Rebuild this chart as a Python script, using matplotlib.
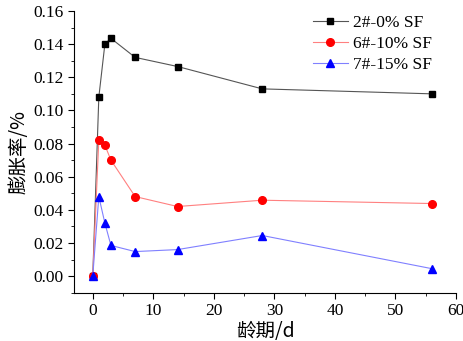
import matplotlib
matplotlib.use("Agg")
import matplotlib.pyplot as plt
from matplotlib.ticker import MultipleLocator, FormatStrFormatter

days = [0, 1, 2, 3, 7, 14, 28, 56]
sf0 = [0.0, 0.108, 0.140, 0.1435, 0.132, 0.1265, 0.113, 0.110]
sf10 = [0.0, 0.082, 0.079, 0.070, 0.048, 0.042, 0.0458, 0.0438]
sf15 = [0.0, 0.048, 0.032, 0.0185, 0.0148, 0.016, 0.0245, 0.0045]
labels = ["2#-0% SF", "6#-10% SF", "7#-15% SF"]

plt.rcParams['font.family'] = ['Liberation Serif', 'Noto Sans CJK SC']
fig = plt.figure(figsize=(4.64, 3.41), dpi=100)
ax = fig.add_axes([74/464, 1-293/341, (456-74)/464, (293-11)/341])

ax.plot(days, sf0, color='#555555', lw=0.8, marker='s', ms=5, mfc='black', mec='black', label=labels[0])
ax.plot(days, sf10, color='#ff8080', lw=0.8, marker='o', ms=5.5, mfc='red', mec='red', label=labels[1])
ax.plot(days, sf15, color='#8080ff', lw=0.8, marker='^', ms=5.5, mfc='blue', mec='blue', label=labels[2])

ax.set_xlim(-3.1, 60)
ax.set_ylim(-0.0102, 0.16)
ax.xaxis.set_major_locator(MultipleLocator(10))
ax.xaxis.set_minor_locator(MultipleLocator(5))
ax.yaxis.set_major_locator(MultipleLocator(0.02))
ax.yaxis.set_minor_locator(MultipleLocator(0.01))
ax.yaxis.set_major_formatter(FormatStrFormatter('%.2f'))
ax.spines['top'].set_visible(False)
ax.spines['right'].set_visible(False)
ax.tick_params(which='both', direction='out', labelsize=12.5)
ax.tick_params(which='major', length=4)
ax.tick_params(which='minor', length=2.5)

ax.set_ylabel('膨胀率/%', fontsize=14, family=['Noto Sans CJK SC'], labelpad=3)
ax.set_xlabel('龄期/d', fontsize=14, family=['Noto Sans CJK SC', 'Liberation Serif'], labelpad=1)

leg = ax.legend(loc='upper right', frameon=False, fontsize=12.5, handlelength=2.0,
                handletextpad=0.3, borderaxespad=0.0, labelspacing=0.3,
                bbox_to_anchor=(0.955, 1.012))

fig.savefig('out.png', dpi=100)
